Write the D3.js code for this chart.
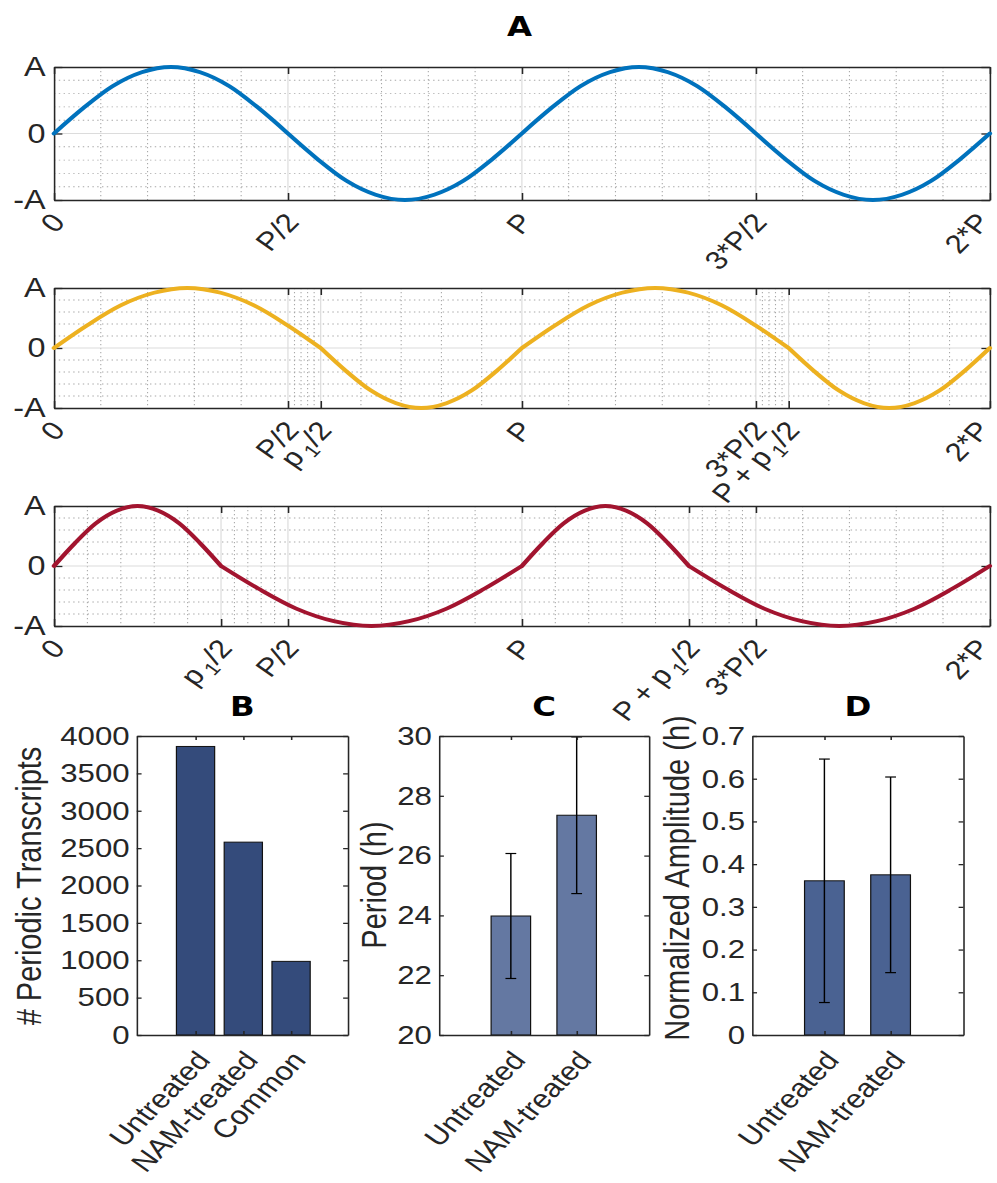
<!DOCTYPE html>
<html>
<head>
<meta charset="utf-8">
<script src="https://cdn.jsdelivr.net/npm/d3@7"></script>
<style>body{margin:0;background:#fff}</style>
</head>
<body>
<div id="viz"></div>
<script>
// ---- panel A: schematic waves (x in units of P, y in units of A) ----
const ticksA1 = [0, 0.5, 1, 1.5, 2];
const labelsA1 = ['0', 'P/2', 'P', '3*P/2', '2*P'];
const zerosA1 = [0, 0.5, 1, 1.5, 2];

const ticksA2 = [0, 0.5, 0.57, 1, 1.5, 1.57, 2];
const labelsA2 = ['0', 'P/2', 'p_1/2', 'P', '3*P/2', 'P + p_1/2', '2*P'];
const zerosA2 = [0, 0.57, 1, 1.57, 2];

const ticksA3 = [0, 0.357, 0.5, 1, 1.357, 1.5, 2];
const labelsA3 = ['0', 'p_1/2', 'P/2', 'P', 'P + p_1/2', '3*P/2', '2*P'];
const zerosA3 = [0, 0.357, 1, 1.357, 2];

// height of one lobe read at eighths of its width
const lobeShape = [0, 0.38, 0.71, 0.92, 1, 0.92, 0.71, 0.38, 0];
const yTicksA = [-1, 0, 1];
const yLabelsA = ['-A', '0', 'A'];

// ---- panels B, C, D ----
const catsB = ['Untreated', 'NAM-treated', 'Common'];
const countsB = [3860, 2580, 985];
const yTicksB = [0, 500, 1000, 1500, 2000, 2500, 3000, 3500, 4000];

const catsCD = ['Untreated', 'NAM-treated'];
const periodMean = [23.98, 27.35];
const periodSd = [2.09, 2.62];
const yTicksC = [20, 22, 24, 26, 28, 30];

const ampMean = [0.361, 0.375];
const ampSd = [0.285, 0.229];
const yTicksD = [0, 0.1, 0.2, 0.3, 0.4, 0.5, 0.6, 0.7];

const W = 831, H = 1183;
const font = "'Liberation Sans', Arial, Helvetica, sans-serif";
const titleFont = "'DejaVu Sans', 'Liberation Sans', Arial, sans-serif";
const ink = '#262626';

const svg = d3.select('#viz').append('svg')
    .attr('width', 997)
    .attr('height', H)
    .attr('viewBox', `0 0 ${W} ${H}`)
    .attr('preserveAspectRatio', 'none')
    .style('display', 'block')
    .style('font-family', font);

svg.append('rect').attr('width', W).attr('height', H).attr('fill', '#fff');

function subdivide(vals) {
  const out = [];
  for (let i = 0; i < vals.length - 1; i++)
    for (let k = 1; k < 5; k++) out.push(vals[i] + (vals[i + 1] - vals[i]) * k / 5);
  return out;
}

// "p_1/2" -> p, subscript 1, /2
function texLabel(text, s) {
  text.text(null);
  const m = s.match(/^(.*)_(\d)(.*)$/);
  if (!m) { text.text(s); return; }
  text.append('tspan').text(m[1]);
  text.append('tspan').attr('dx', 4).attr('dy', 8).attr('font-size', 18).text(m[2]);
  text.append('tspan').attr('dy', -8).text(m[3]);
}

function styleAxis(g) {
  g.attr('color', ink).attr('font-family', font);
  g.selectAll('path, line').attr('stroke-width', 1.3);
}

svg.append('text')
    .attr('x', 433).attr('y', 36)
    .attr('text-anchor', 'middle')
    .attr('font-family', titleFont)
    .attr('font-size', 27).attr('font-weight', 'bold')
    .text('A');

const xA = d3.scaleLinear().domain([0, 2]).range([45, 825]);

const panelsA = [
  {ticks: ticksA1, labels: labelsA1, zeros: zerosA1, color: '#0072bd', top: 67, bottom: 200},
  {ticks: ticksA2, labels: labelsA2, zeros: zerosA2, color: '#edb120', top: 288, bottom: 408},
  {ticks: ticksA3, labels: labelsA3, zeros: zerosA3, color: '#a2142f', top: 506, bottom: 626}
];

panelsA.forEach(p => {
  const y = d3.scaleLinear().domain([-1, 1]).range([p.bottom, p.top]);
  const g = svg.append('g');

  // minor grid (dotted)
  g.append('g').selectAll('line').data(subdivide(p.ticks)).join('line')
      .attr('x1', d => xA(d)).attr('x2', d => xA(d))
      .attr('y1', p.top).attr('y2', p.bottom)
      .attr('stroke', '#a8a8a8').attr('stroke-width', 0.9)
      .attr('stroke-dasharray', '1.2,2.8');
  g.append('g').selectAll('line').data(subdivide(yTicksA)).join('line')
      .attr('x1', xA(0)).attr('x2', xA(2))
      .attr('y1', d => y(d)).attr('y2', d => y(d))
      .attr('stroke', '#a8a8a8').attr('stroke-width', 0.9)
      .attr('stroke-dasharray', '1.2,2.8');

  // major grid
  g.append('g').selectAll('line').data(p.ticks.slice(1, -1)).join('line')
      .attr('x1', d => xA(d)).attr('x2', d => xA(d))
      .attr('y1', p.top).attr('y2', p.bottom)
      .attr('stroke', '#dcdcdc').attr('stroke-width', 1);
  g.append('line')
      .attr('x1', xA(0)).attr('x2', xA(2))
      .attr('y1', y(0)).attr('y2', y(0))
      .attr('stroke', '#dcdcdc').attr('stroke-width', 1);

  // axes / box
  const gx = g.append('g').attr('transform', `translate(0,${p.bottom})`)
      .call(d3.axisBottom(xA).tickValues(p.ticks).tickSizeInner(-7).tickSizeOuter(0).tickFormat(''));
  gx.selectAll('.tick text').each(function(d, i) { texLabel(d3.select(this), p.labels[i]); })
      .attr('x', null).attr('y', null).attr('dy', null)
      .attr('text-anchor', 'end')
      .attr('dominant-baseline', 'central')
      .attr('transform', d => `translate(${d === 2 ? -6 : 3},17) rotate(-50)`)
      .attr('font-size', 26);
  styleAxis(gx);

  const gt = g.append('g').attr('transform', `translate(0,${p.top})`)
      .call(d3.axisTop(xA).tickValues(p.ticks).tickSizeInner(-7).tickSizeOuter(0).tickFormat(''));
  styleAxis(gt);

  const gy = g.append('g').attr('transform', `translate(${xA(0)},0)`)
      .call(d3.axisLeft(y).tickValues(yTicksA).tickSizeInner(-7).tickSizeOuter(0)
        .tickFormat((d, i) => yLabelsA[i]));
  gy.selectAll('.tick text').attr('x', -7).attr('font-size', 27);
  styleAxis(gy);

  const gr = g.append('g').attr('transform', `translate(${xA(2)},0)`)
      .call(d3.axisRight(y).tickValues(yTicksA).tickSizeInner(-7).tickSizeOuter(0).tickFormat(''));
  styleAxis(gr);

  // curve: one smooth lobe between consecutive zero crossings
  const line = d3.line().x(d => xA(d[0])).y(d => y(d[1])).curve(d3.curveMonotoneX);
  let path = '';
  for (let i = 0; i < p.zeros.length - 1; i++) {
    const a = p.zeros[i], b = p.zeros[i + 1], sgn = i % 2 ? -1 : 1;
    const pts = lobeShape.map((v, k) => [a + (b - a) * k / (lobeShape.length - 1), sgn * v]);
    path += line(pts);
  }
  g.append('path')
      .attr('d', path)
      .attr('fill', 'none')
      .attr('stroke', p.color)
      .attr('stroke-width', 3.8)
      .attr('stroke-linecap', 'round')
      .attr('stroke-linejoin', 'round');
});

// ---- bar panels ----
const panelsBar = [
  {title: 'B', cats: catsB, vals: countsB, sd: null, yTicks: yTicksB, yDom: [0, 4000],
   x0: 114, x1: 290, xDom: [-0.23, 4.19], bw: 0.8, color: '#344b7b',
   ylabel: '# Periodic Transcripts', lx: 24, ly: 886},
  {title: 'C', cats: catsCD, vals: periodMean, sd: periodSd, yTicks: yTicksC, yDom: [20, 30],
   x0: 366, x1: 541, xDom: [-0.09, 3.1], bw: 0.6, color: '#6478a2',
   ylabel: 'Period (h)', lx: 312, ly: 885},
  {title: 'D', cats: catsCD, vals: ampMean, sd: ampSd, yTicks: yTicksD, yDom: [0, 0.7],
   x0: 627, x1: 803, xDom: [-0.09, 3.1], bw: 0.6, color: '#4a6292',
   ylabel: 'Normalized Amplitude (h)', lx: 564, ly: 878}
];

const barTop = 736, barBottom = 1035;

panelsBar.forEach(p => {
  const x = d3.scaleLinear().domain(p.xDom).range([p.x0, p.x1]);
  const y = d3.scaleLinear().domain(p.yDom).range([barBottom, barTop]);
  const idx = p.cats.map((c, i) => i + 1);
  const g = svg.append('g');

  g.selectAll('rect.bar').data(p.vals).join('rect')
      .attr('class', 'bar')
      .attr('x', (d, i) => x(i + 1 - p.bw / 2))
      .attr('width', x(p.bw) - x(0))
      .attr('y', d => y(d))
      .attr('height', d => y(p.yDom[0]) - y(d))
      .attr('fill', p.color)
      .attr('stroke', '#111')
      .attr('stroke-width', 1);

  if (p.sd) {
    const eb = g.append('g').attr('stroke', '#000').attr('stroke-width', 1.2);
    p.vals.forEach((v, i) => {
      const cx = x(i + 1);
      eb.append('line').attr('x1', cx).attr('x2', cx).attr('y1', y(v - p.sd[i])).attr('y2', y(v + p.sd[i]));
      [v - p.sd[i], v + p.sd[i]].forEach(e => {
        eb.append('line').attr('x1', cx - 4.5).attr('x2', cx + 4.5).attr('y1', y(e)).attr('y2', y(e));
      });
    });
  }

  const gx = g.append('g').attr('transform', `translate(0,${barBottom})`)
      .call(d3.axisBottom(x).tickValues(idx).tickSizeInner(-4).tickSizeOuter(0)
        .tickFormat((d, i) => p.cats[i]));
  gx.selectAll('.tick text')
      .attr('x', null).attr('y', null).attr('dy', null)
      .attr('text-anchor', 'end')
      .attr('dominant-baseline', 'central')
      .attr('transform', 'translate(6,20) rotate(-50)')
      .attr('font-size', 26);
  styleAxis(gx);

  const gt = g.append('g').attr('transform', `translate(0,${barTop})`)
      .call(d3.axisTop(x).tickValues(idx).tickSizeInner(-4).tickSizeOuter(0).tickFormat(''));
  styleAxis(gt);

  const gy = g.append('g').attr('transform', `translate(${p.x0},0)`)
      .call(d3.axisLeft(y).tickValues(p.yTicks).tickSizeInner(-4).tickSizeOuter(0).tickFormat(d3.format('')));
  gy.selectAll('.tick text').attr('x', -6).attr('font-size', 26);
  styleAxis(gy);

  const gr = g.append('g').attr('transform', `translate(${p.x1},0)`)
      .call(d3.axisRight(y).tickValues(p.yTicks).tickSizeInner(-4).tickSizeOuter(0).tickFormat(''));
  styleAxis(gr);

  g.append('text')
      .attr('x', (p.x0 + p.x1) / 2).attr('y', 716)
      .attr('text-anchor', 'middle')
      .attr('font-family', titleFont)
      .attr('font-size', 27).attr('font-weight', 'bold')
      .text(p.title);

  g.append('text')
      .attr('transform', `translate(${p.lx},${p.ly}) rotate(-90)`)
      .attr('text-anchor', 'middle')
      .attr('dominant-baseline', 'central')
      .attr('font-size', 29)
      .attr('fill', ink)
      .text(p.ylabel);
});
</script>
</body>
</html>
